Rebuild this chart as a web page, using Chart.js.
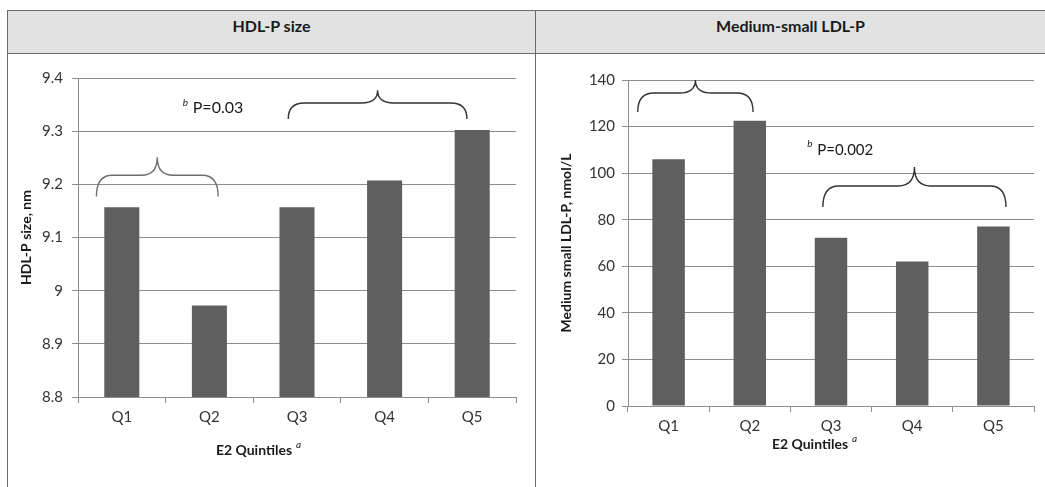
<!DOCTYPE html>
<html>
<head>
<meta charset="utf-8">
<script src="https://cdn.jsdelivr.net/npm/chart.js@4"></script>
<style>
  body { margin: 0; background: #fff; font-family: Lato, sans-serif; width: 1045px; height: 487px; overflow: hidden; position: relative; }
  .linea { position: absolute; background: #6a6a6a; }
  .cabecera { position: absolute; top: 11px; height: 42px; background: #e2e2e2; }
  .titulo { position: absolute; top: 11px; height: 30px; line-height: 30px; font-weight: bold; font-size: 16px; color: #1a1a1a; text-align: center; }
  canvas { position: absolute; }
</style>
</head>
<body>
<div class="cabecera" style="left:8px;width:1040px"></div>
<div class="linea" style="left:7px;top:10px;width:1045px;height:1px"></div>
<div class="linea" style="left:7px;top:53px;width:1045px;height:1px"></div>
<div class="linea" style="left:7px;top:10px;width:1px;height:480px"></div>
<div class="linea" style="left:535px;top:10px;width:1px;height:480px"></div>
<div class="titulo" style="left:8px;width:527px">HDL-P size</div>
<div class="titulo" style="left:536px;width:509px">Medium-small LDL-P</div>

<canvas id="hdlChart" width="527" height="433" style="left:8px;top:54px"></canvas>
<canvas id="ldlChart" width="509" height="433" style="left:536px;top:54px"></canvas>

<script>
// Datos
const quintiles = ['Q1', 'Q2', 'Q3', 'Q4', 'Q5'];
const tamanoHDL = [9.157, 8.972, 9.157, 9.207, 9.302];
const ldlMedianoPeq = [106, 122.5, 72.3, 62.1, 77.1];

Chart.defaults.font.family = 'Lato, sans-serif';
Chart.defaults.color = '#333';

const gris = '#8e8e8e';

// Llave horizontal con punta hacia arriba
function dibujarLlave(ctx, x1, x2, yFin, yMedio, yPunta) {
  const xc = (x1 + x2) / 2;
  const r = Math.min(16, (x2 - x1) / 6);
  ctx.beginPath();
  ctx.moveTo(x1, yFin);
  ctx.quadraticCurveTo(x1, yMedio, x1 + r, yMedio);
  ctx.lineTo(xc - r, yMedio);
  ctx.quadraticCurveTo(xc, yMedio, xc, yPunta);
  ctx.quadraticCurveTo(xc, yMedio, xc + r, yMedio);
  ctx.lineTo(x2 - r, yMedio);
  ctx.quadraticCurveTo(x2, yMedio, x2, yFin);
  ctx.stroke();
}

// Llaves, valor p y título del eje x
const anotaciones = {
  id: 'anotaciones',
  afterDraw(chart, args, opts) {
    const ctx = chart.ctx;
    const x = chart.scales.x;
    const y = chart.scales.y;
    ctx.save();
    ctx.lineWidth = 1.4;
    opts.llaves.forEach(l => {
      ctx.strokeStyle = l.color;
      dibujarLlave(ctx, x.getPixelForValue(l.desde), x.getPixelForValue(l.hasta),
        y.getPixelForValue(l.fin), y.getPixelForValue(l.medio), y.getPixelForValue(l.punta));
    });

    // valor p con superíndice b
    const px = x.getPixelForValue(opts.p.x);
    const py = y.getPixelForValue(opts.p.y);
    ctx.fillStyle = '#1a1a1a';
    ctx.textBaseline = 'middle';
    ctx.textAlign = 'left';
    ctx.font = opts.p.tam + 'px Lato';
    ctx.fillText(opts.p.texto, px, py);
    ctx.font = 'italic 10px Lato';
    ctx.fillText('b', px - 10, py - 6);

    // título del eje x con superíndice a
    ctx.font = 'bold 14px Lato';
    const principal = 'E2 Quintiles';
    const ancho = ctx.measureText(principal).width + 8;
    const tx = opts.tituloX.x - ancho / 2;
    ctx.fillText(principal, tx, opts.tituloX.y);
    ctx.font = 'italic 10px Lato';
    ctx.fillText('a', tx + ancho - 4, opts.tituloX.y - 5);
    ctx.restore();
  }
};

function ejeX(alto) {
  return {
    grid: { display: true, drawOnChartArea: false, tickLength: 6, color: gris, offset: true },
    border: { display: true, color: gris },
    ticks: { font: { size: 15 }, padding: 5, color: '#333' },
    afterFit: s => { s.height = alto; }
  };
}

function ejeY(ancho, titulo, relleno, min, max, paso, pad) {
  return {
    min: min,
    max: max,
    grid: { color: gris, tickLength: 6 },
    border: { display: true, color: gris },
    ticks: {
      stepSize: paso,
      padding: pad,
      font: { size: 15 },
      color: '#333',
      callback: v => String(parseFloat(Number(v).toFixed(2)))
    },
    title: {
      display: true,
      text: titulo,
      font: { size: 14, weight: 'bold' },
      color: '#1a1a1a',
      padding: { top: relleno, bottom: 0 }
    },
    afterFit: s => { s.width = ancho; }
  };
}

// Gráfico de tamaño HDL-P
new Chart(document.getElementById('hdlChart'), {
  type: 'bar',
  data: {
    labels: quintiles,
    datasets: [{
      data: tamanoHDL,
      backgroundColor: '#5f5f5f',
      barPercentage: 0.4,
      categoryPercentage: 1
    }]
  },
  options: {
    responsive: false,
    animation: false,
    devicePixelRatio: 1,
    layout: { padding: { top: 24, right: 19, left: 0, bottom: 0 } },
    plugins: {
      legend: { display: false },
      tooltip: { enabled: false },
      anotaciones: {
        llaves: [
          { desde: -0.29, hasta: 1.10, fin: 9.177, medio: 9.217, punta: 9.251, color: '#6e6e6e' },
          { desde: 1.90, hasta: 3.94, fin: 9.323, medio: 9.353, punta: 9.377, color: '#333' }
        ],
        p: { x: 0.81, y: 9.343, texto: 'P=0.03', tam: 16 },
        tituloX: { x: 250, y: 396 }
      }
    },
    scales: {
      x: ejeX(90),
      y: ejeY(70, 'HDL-P size, nm', 10, 8.8, 9.4, 0.1, 9)
    }
  },
  plugins: [anotaciones]
});

// Gráfico de LDL-P mediano-pequeño
new Chart(document.getElementById('ldlChart'), {
  type: 'bar',
  data: {
    labels: quintiles,
    datasets: [{
      data: ldlMedianoPeq,
      backgroundColor: '#5f5f5f',
      barPercentage: 0.4,
      categoryPercentage: 1
    }]
  },
  options: {
    responsive: false,
    animation: false,
    devicePixelRatio: 1,
    layout: { padding: { top: 26, right: 11, left: 0, bottom: 0 } },
    plugins: {
      legend: { display: false },
      tooltip: { enabled: false },
      anotaciones: {
        llaves: [
          { desde: -0.38, hasta: 1.04, fin: 126.3, medio: 134.4, punta: 140, color: '#333' },
          { desde: 1.90, hasta: 4.155, fin: 85.5, medio: 94.5, punta: 102.6, color: '#333' }
        ],
        p: { x: 1.83, y: 110, texto: 'P=0.002', tam: 15 },
        tituloX: { x: 278, y: 390 }
      }
    },
    scales: {
      x: ejeX(81),
      y: ejeY(92, 'Medium small LDL-P, nmol/L', 22, 0, 140, 20, 7)
    }
  },
  plugins: [anotaciones]
});
</script>
</body>
</html>
